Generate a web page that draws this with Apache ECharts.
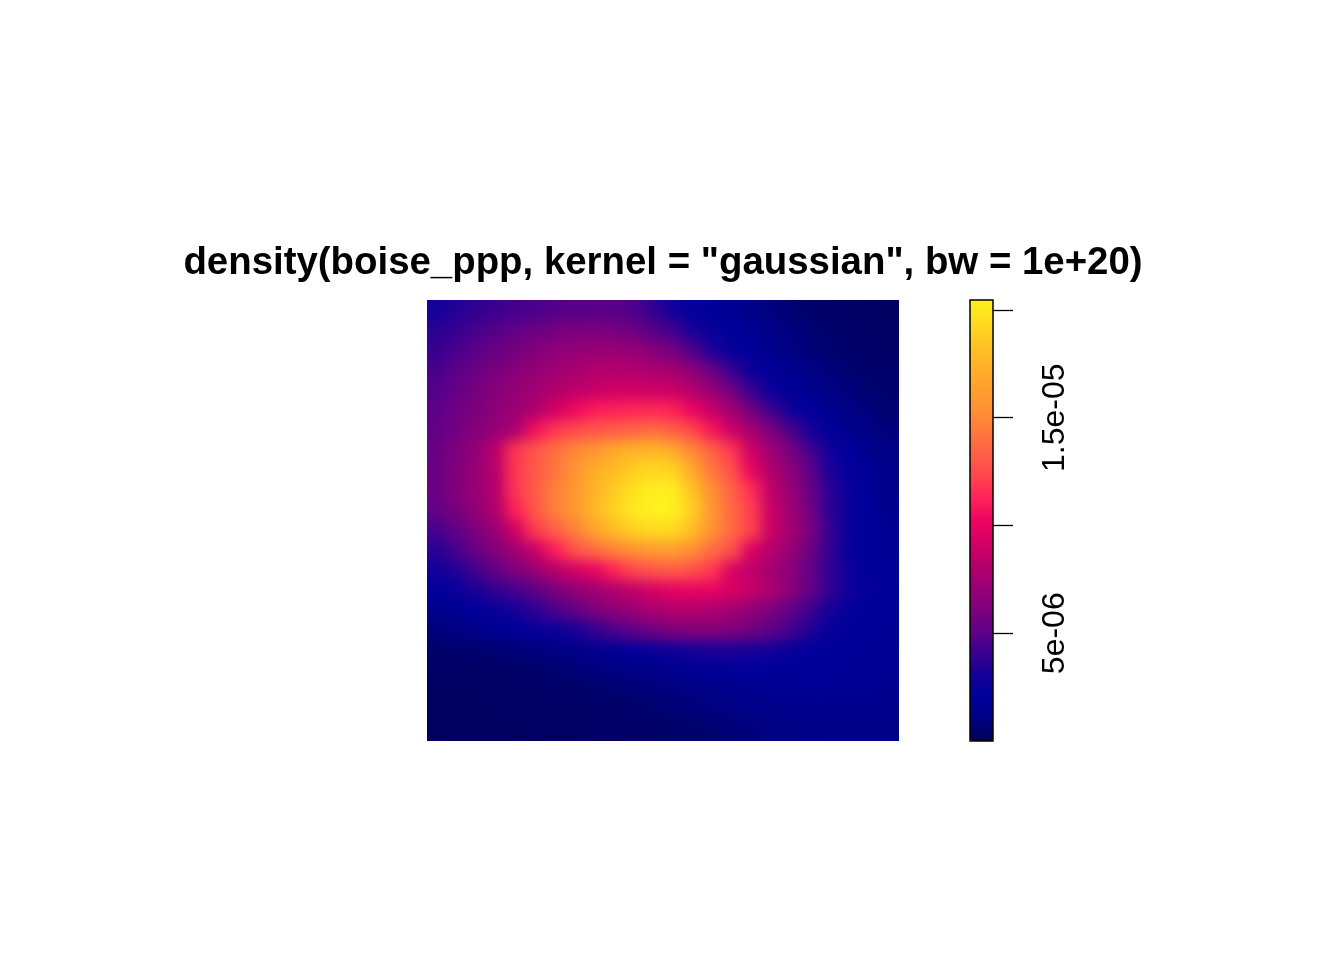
<!DOCTYPE html>
<html>
<head>
<meta charset="utf-8">
<script src="https://cdn.jsdelivr.net/npm/echarts@6/dist/echarts.min.js"></script>
<style>
  html, body { margin: 0; padding: 0; background: #ffffff; }
  #stage { position: relative; width: 1344px; height: 960px; }
  #map, #frame { position: absolute; left: 0; top: 0; width: 1344px; height: 960px; }
  /* smooth the pixel image like an interpolated raster, keep its edges crisp */
  #map { filter: url(#smooth); clip-path: inset(300px 445px 219px 427px); }
  #frame { z-index: 2; }
</style>
</head>
<body>
<svg width="0" height="0" style="position:absolute">
  <filter id="smooth" x="0" y="0" width="100%" height="100%" color-interpolation-filters="sRGB">
    <feGaussianBlur stdDeviation="7"/>
    <feComponentTransfer>
      <feFuncA type="discrete" tableValues="0 1 1 1 1 1 1 1 1 1 1 1 1 1 1 1 1 1 1 1"/>
    </feComponentTransfer>
  </filter>
</svg>
<div id="stage">
  <div id="map"></div>
  <div id="frame"></div>
</div>
<script>
// Pixel-image density values, in units of 1e-6.
// Rows run from the top of the image (row 0) to the bottom (row 21);
// columns run from left (col 0) to right (col 23).
const densityRowsE6 = [
  [3.0, 3.4, 3.8, 4.1, 4.3, 4.5, 4.7, 4.8, 4.9, 4.9, 4.6, 3.8, 2.8, 2.3, 2.0, 1.6, 1.3, 0.9, 0.6, 0.45, 0.35, 0.3, 0.25, 0.2],
  [3.6, 4.0, 4.4, 4.8, 5.2, 5.5, 5.8, 6.0, 6.0, 5.9, 5.5, 4.8, 4.2, 3.1, 2.5, 2.05, 1.6, 1.25, 0.9, 0.65, 0.5, 0.4, 0.32, 0.25],
  [4.0, 4.5, 5.0, 5.4, 5.9, 6.3, 6.7, 6.9, 7.0, 7.0, 6.9, 6.4, 5.8, 4.6, 3.2, 2.4, 2.0, 1.4, 1.05, 0.75, 0.55, 0.42, 0.37, 0.32],
  [4.4, 5.0, 5.5, 6.0, 6.5, 6.9, 7.3, 7.7, 8.0, 8.1, 8.1, 7.8, 7.5, 6.6, 5.5, 3.9, 2.5, 2.05, 1.45, 1.1, 0.8, 0.58, 0.45, 0.42],
  [4.8, 5.3, 5.9, 6.4, 6.9, 7.4, 8.0, 8.4, 8.8, 9.0, 9.1, 9.0, 8.9, 8.1, 6.9, 5.8, 3.9, 2.5, 1.9, 1.45, 1.1, 0.82, 0.6, 0.45],
  [5.0, 5.6, 6.1, 6.7, 7.2, 7.9, 9.2, 10.3, 11.0, 11.2, 11.3, 11.4, 11.2, 10.2, 8.7, 7.3, 5.8, 4.2, 2.7, 2.1, 1.45, 1.15, 0.85, 0.6],
  [5.2, 5.8, 6.4, 7.0, 7.8, 10.6, 11.8, 12.5, 12.9, 13.2, 13.5, 13.8, 13.3, 12.3, 10.8, 9.0, 7.5, 6.1, 4.6, 3.0, 2.1, 1.45, 1.15, 0.8],
  [5.4, 6.1, 6.9, 8.4, 11.8, 12.9, 14.0, 14.9, 15.6, 16.8, 17.4, 17.6, 17.0, 15.0, 13.4, 11.8, 9.0, 7.3, 5.9, 4.4, 2.8, 2.1, 1.45, 1.15],
  [5.5, 6.2, 7.0, 8.3, 11.8, 13.0, 14.2, 15.5, 17.0, 17.8, 18.8, 19.3, 19.0, 16.8, 14.3, 12.7, 10.0, 8.0, 6.6, 5.1, 3.2, 2.25, 1.75, 1.25],
  [5.5, 6.2, 7.0, 8.2, 11.8, 13.2, 14.6, 15.8, 17.4, 18.6, 19.7, 20.3, 20.3, 18.2, 15.2, 13.4, 11.6, 8.5, 7.0, 5.4, 3.6, 2.4, 1.9, 1.35],
  [5.3, 6.0, 6.8, 8.0, 11.2, 13.0, 14.6, 15.8, 17.6, 19.0, 20.0, 20.4, 20.4, 18.8, 15.8, 13.8, 12.0, 8.9, 7.3, 5.8, 3.7, 2.4, 1.9, 1.45],
  [4.4, 5.2, 6.1, 7.1, 9.2, 11.9, 13.3, 14.6, 16.4, 17.8, 18.9, 19.4, 19.3, 18.0, 15.4, 13.7, 12.2, 8.9, 7.5, 6.0, 3.9, 2.4, 1.9, 1.6],
  [3.6, 4.4, 5.4, 6.3, 7.4, 8.8, 11.0, 12.7, 13.8, 14.7, 15.4, 16.0, 16.2, 15.2, 13.8, 12.7, 9.4, 8.2, 7.0, 5.6, 3.8, 2.4, 2.0, 1.75],
  [2.8, 3.4, 4.3, 5.3, 6.2, 7.1, 8.2, 9.2, 10.0, 11.2, 12.3, 12.9, 13.2, 12.7, 11.9, 9.4, 8.5, 7.5, 6.5, 5.3, 3.8, 2.6, 2.05, 1.9],
  [2.1, 2.5, 3.2, 3.8, 4.4, 5.1, 5.9, 6.7, 7.4, 8.0, 8.6, 9.3, 9.8, 10.0, 9.9, 9.4, 8.7, 7.9, 6.6, 5.3, 3.8, 2.7, 2.3, 2.05],
  [1.4, 1.7, 2.05, 2.5, 3.0, 3.7, 4.5, 5.3, 6.0, 6.6, 7.2, 7.7, 8.0, 8.0, 7.8, 7.4, 6.8, 6.0, 5.1, 4.1, 3.0, 2.3, 2.05, 1.95],
  [0.8, 1.0, 1.3, 1.6, 1.9, 2.2, 2.6, 3.1, 3.8, 4.5, 5.2, 5.7, 6.1, 6.3, 6.3, 6.1, 5.7, 5.1, 4.3, 3.3, 2.5, 2.1, 1.95, 1.8],
  [0.4, 0.45, 0.5, 0.6, 0.7, 0.85, 1.05, 1.3, 1.55, 1.8, 2.05, 2.3, 2.7, 3.0, 3.2, 3.2, 3.1, 2.8, 2.4, 2.1, 2.0, 1.9, 1.8, 1.7],
  [0.3, 0.3, 0.32, 0.35, 0.4, 0.45, 0.55, 0.7, 0.85, 1.0, 1.15, 1.3, 1.5, 1.65, 1.8, 1.9, 2.0, 2.0, 2.0, 2.0, 1.95, 1.85, 1.75, 1.65],
  [0.22, 0.23, 0.25, 0.27, 0.3, 0.33, 0.37, 0.42, 0.47, 0.55, 0.65, 0.8, 0.95, 1.1, 1.25, 1.4, 1.5, 1.6, 1.65, 1.7, 1.7, 1.65, 1.6, 1.5],
  [0.2, 0.2, 0.22, 0.24, 0.26, 0.28, 0.3, 0.33, 0.36, 0.4, 0.44, 0.5, 0.6, 0.75, 0.9, 1.05, 1.2, 1.3, 1.4, 1.45, 1.45, 1.45, 1.4, 1.35],
  [0.18, 0.18, 0.2, 0.2, 0.22, 0.24, 0.26, 0.28, 0.3, 0.33, 0.36, 0.38, 0.42, 0.48, 0.55, 0.7, 0.85, 1.0, 1.1, 1.2, 1.25, 1.3, 1.3, 1.25]
];
const valueUnit = 1e-6;

// Colour bar range and ticks
const colorbarMin = 0;
const colorbarMax = 2.046e-5;
const colorbarTicks = [5e-6, 1e-5, 1.5e-5, 2e-5];
const colorbarLabelValues = [5e-6, 1.5e-5];
const colorbarLabelTexts = ['5e-06', '1.5e-05'];

const titleText = 'density(boise_ppp, kernel = "gaussian", bw = 1e+20)';

// spatstat-style colour ramp (evenly spaced from min to max)
const palette = ['#000058', '#000083', '#00009b', '#150099', '#3c008f', '#600087', '#7e007c',
  '#9a0074', '#b6006c', '#d30065', '#ee0460', '#ff2258', '#ff454f', '#ff5f46', '#ff783d',
  '#ff9033', '#ffa02d', '#ffb227', '#ffc523', '#ffdb20', '#fff21f'];

const nRows = densityRowsE6.length;
const nCols = densityRowsE6[0].length;
const colCats = Array.from({length: nCols}, (_, i) => String(i));
const rowCats = Array.from({length: nRows}, (_, i) => String(i));
const heatData = [];
densityRowsE6.forEach((row, r) => {
  row.forEach((v, c) => heatData.push([c, r, v * valueUnit]));
});

const font = '"Liberation Sans", Arial, Helvetica, sans-serif';

// Chart 1: the density image itself
const mapChart = echarts.init(document.getElementById('map'), null, {renderer: 'canvas'});
mapChart.setOption({
  backgroundColor: 'transparent',
  animation: false,
  grid: { left: 427, top: 300, width: 472, height: 441, containLabel: false },
  xAxis: { type: 'category', data: colCats, show: false },
  yAxis: { type: 'category', data: rowCats, inverse: true, show: false },
  visualMap: {
    type: 'continuous', show: false,
    min: colorbarMin, max: colorbarMax, dimension: 2, seriesIndex: 0,
    inRange: { color: palette }
  },
  series: [{
    type: 'heatmap',
    data: heatData,
    progressive: 0,
    itemStyle: { borderWidth: 0 },
    emphasis: { disabled: true }
  }]
});

// Chart 2: title and colour ribbon with its axis
const frameChart = echarts.init(document.getElementById('frame'), null, {renderer: 'canvas'});
frameChart.setOption({
  backgroundColor: 'transparent',
  animation: false,
  title: {
    text: titleText,
    left: 663,
    top: 263,
    padding: 0,
    textAlign: 'center',
    textVerticalAlign: 'middle',
    textStyle: { fontFamily: font, fontSize: 38.4, fontWeight: 'bold', color: '#000' }
  },
  grid: {
    left: 970, top: 300, width: 23, height: 441, containLabel: false, show: true,
    borderColor: '#000', borderWidth: 1.5, backgroundColor: 'transparent', z: 10
  },
  xAxis: { type: 'value', show: false, min: 0, max: 1 },
  yAxis: {
    type: 'value', position: 'right', min: colorbarMin, max: colorbarMax, z: 10,
    axisLine: { show: false, onZero: false },
    splitLine: { show: false },
    axisTick: { show: true, inside: false, length: 20, customValues: colorbarTicks,
      lineStyle: { color: '#000', width: 1.3 } },
    axisLabel: { show: true, customValues: colorbarLabelValues, rotate: 90, margin: 46,
      fontSize: 32, fontFamily: font, color: '#000',
      formatter: function (v) {
        const i = colorbarLabelValues.findIndex(x => Math.abs(x - v) < 1e-9);
        return i >= 0 ? colorbarLabelTexts[i] : '';
      } }
  },
  visualMap: {
    type: 'continuous',
    min: colorbarMin,
    max: colorbarMax,
    seriesIndex: [],
    calculable: false,
    hoverLink: false,
    orient: 'vertical',
    left: 970,
    top: 300,
    padding: 0,
    itemWidth: 23,
    itemHeight: 441,
    text: null,
    inRange: { color: palette }
  },
  series: []
});
</script>
</body>
</html>
